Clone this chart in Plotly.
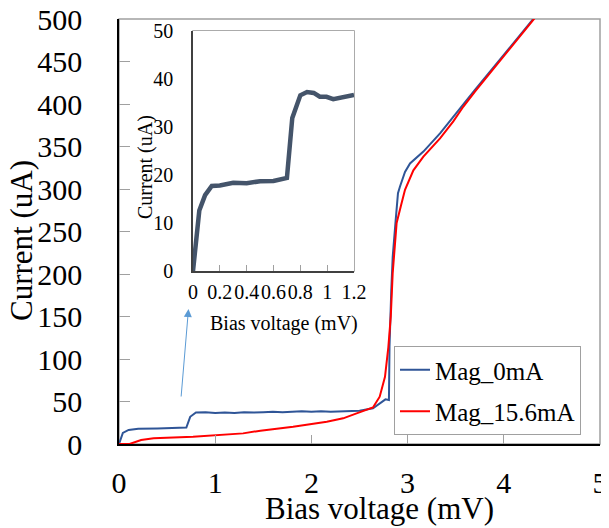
import plotly.graph_objects as go

# Main curves (bias voltage in mV, current in uA)
v_mag0 = [0.0, 0.04, 0.1, 0.2, 0.4, 0.6, 0.7, 0.74, 0.8, 0.9, 1.0, 1.1, 1.2, 1.3, 1.4, 1.5, 1.6, 1.7,
          1.8, 1.9, 2.0, 2.1, 2.2, 2.3, 2.4, 2.5, 2.64, 2.73, 2.77, 2.806, 2.812, 2.83, 2.845, 2.875,
          2.886, 2.90, 2.921, 2.973, 3.025, 3.164, 3.337, 3.475, 3.70, 4.4]
i_mag0 = [0.0, 13.0, 16.5, 18.0, 18.3, 18.8, 19.4, 32.0, 37.0, 37.5, 36.5, 37.0, 36.5, 37.5, 37.0,
          37.5, 38.0, 37.5, 38.0, 38.5, 38.0, 38.5, 38.0, 38.5, 38.5, 39.0, 42.0, 50.0, 52.5, 51.8,
          114.5, 180.0, 220.0, 262.0, 275.0, 295.0, 303.0, 320.0, 330.0, 344.0, 365.5, 385.0,
          416.5, 513.0]

v_mag156 = [0.0, 0.11, 0.23, 0.36, 0.77, 1.29, 1.47, 1.81, 2.16, 2.33, 2.47, 2.64, 2.71, 2.765,
            2.80, 2.825, 2.845, 2.865, 2.886, 2.93, 2.973, 3.06, 3.164, 3.337, 3.475, 3.58,
            3.70, 4.4]
i_mag156 = [0.0, 0.0, 4.7, 6.7, 8.6, 12.5, 15.7, 20.4, 26.3, 30.2, 36.0, 43.0, 55.7, 79.0,
            114.0, 150.0, 201.0, 235.0, 260.0, 280.0, 299.0, 322.0, 338.0, 359.6, 379.6, 397.0,
            414.5, 512.0]

# Inset (zoom of Mag_0mA at low bias)
v_inset = [0.0, 0.047, 0.09, 0.14, 0.2, 0.3, 0.4, 0.5, 0.6, 0.65, 0.7, 0.74, 0.8, 0.85, 0.9,
           0.945, 0.995, 1.045, 1.094, 1.156, 1.2]
i_inset = [0.0, 12.6, 15.8, 17.7, 17.8, 18.4, 18.3, 18.7, 18.75, 19.1, 19.4, 31.9, 36.6, 37.3,
           37.1, 36.3, 36.3, 35.8, 36.1, 36.25, 36.7]

main_xticks = [0, 1, 2, 3, 4, 5]
main_yticks = [0, 50, 100, 150, 200, 250, 300, 350, 400, 450, 500]
inset_xticks = [0, 0.2, 0.4, 0.6, 0.8, 1, 1.2]
inset_xlabels = ["0", "0.2", "0.4", "0.6", "0.8", "1", "1.2"]
inset_yticks = [0, 10, 20, 30, 40, 50]

FONT = "Liberation Serif"
OFF = 8  # default page body margin
W, H = 609 - OFF, 528 - OFF
SL, SR, ST, SB = 119, 600, 19, 444  # plot area in screen pixels


def px(x):
    return (x - SL) / (SR - SL)


def py(y):
    return (SB - y) / (SB - ST)


fig = go.Figure()
fig.add_trace(go.Scatter(x=v_mag0, y=i_mag0, mode="lines", name="Mag_0mA",
                         line=dict(color="#2F5597", width=2), legendgroup="a"))
fig.add_trace(go.Scatter(x=v_mag156, y=i_mag156, mode="lines", name="Mag_15.6mA",
                         line=dict(color="#FF0000", width=2), legendgroup="b"))
fig.add_trace(go.Scatter(x=v_inset, y=i_inset, mode="lines", showlegend=False,
                         line=dict(color="#44546A", width=4.5), xaxis="x2", yaxis="y2"))

big_tick = dict(family=FONT, size=30, color="black")
small_tick = dict(family=FONT, size=20, color="black")

fig.update_layout(
    width=W, height=H,
    margin=dict(l=SL - OFF, r=W - (SR - OFF), t=ST - OFF, b=H - (SB - OFF), autoexpand=False),
    paper_bgcolor="white", plot_bgcolor="white",
    font=dict(family=FONT, color="black"),
    showlegend=True,
    legend=dict(x=px(394), y=py(346), xanchor="left", yanchor="top",
                bordercolor="#A0A0A0", borderwidth=1, bgcolor="white",
                font=dict(family=FONT, size=25, color="black"),
                tracegroupgap=6, traceorder="grouped"),
    xaxis=dict(range=[0, 5], tickvals=main_xticks, ticks="inside", ticklen=9,
               tickcolor="#A0A0A0", showgrid=False, zeroline=False, showline=True,
               linecolor="black", linewidth=1.5, tickfont=big_tick,
               ticklabelstandoff=11, ticklabeloverflow="allow", domain=[0, 1],
               automargin=False),
    yaxis=dict(range=[0, 500], tickvals=main_yticks, ticks="inside", ticklen=11,
               tickcolor="#A0A0A0", showgrid=False, zeroline=False, showline=True,
               linecolor="black", linewidth=1.5, tickfont=big_tick,
               ticklabelstandoff=29, ticklabeloverflow="allow", domain=[0, 1],
               automargin=False),
    xaxis2=dict(range=[0, 1.2], tickvals=inset_xticks, ticktext=inset_xlabels, tickangle=0,
                ticks="inside", ticklen=6, tickcolor="#A0A0A0", showgrid=False,
                zeroline=False, showline=True, linecolor="#404040", linewidth=1.5,
                tickfont=small_tick, ticklabelstandoff=2, ticklabeloverflow="allow",
                domain=[px(193), px(354)], anchor="y2", automargin=False),
    yaxis2=dict(range=[0, 50], tickvals=inset_yticks, ticks="", showgrid=False,
                zeroline=False, showline=True, linecolor="#404040", linewidth=1.5,
                tickfont=small_tick, ticklabelstandoff=14, ticklabeloverflow="allow",
                domain=[py(271), py(31)], anchor="x2", automargin=False),
    shapes=[
        dict(type="rect", xref="paper", yref="paper", x0=0, x1=1, y0=0, y1=1,
             line=dict(color="#A0A0A0", width=1.5), layer="below"),
        dict(type="rect", xref="x2 domain", yref="y2 domain", x0=0, x1=1, y0=0, y1=1,
             line=dict(color="#909090", width=1.5), fillcolor="white", layer="below"),
    ],
    annotations=[
        dict(text="Bias voltage (mV)", x=px(379), y=py(508), xref="paper", yref="paper",
             showarrow=False, font=dict(family=FONT, size=31), xanchor="center",
             yanchor="middle"),
        dict(text="Current (uA)", x=px(21), y=py(241), xref="paper", yref="paper",
             showarrow=False, font=dict(family=FONT, size=31), textangle=-90,
             xanchor="center", yanchor="middle"),
        dict(text="Bias voltage (mV)", x=px(284), y=py(323), xref="paper", yref="paper",
             showarrow=False, font=dict(family=FONT, size=20), xanchor="center",
             yanchor="middle"),
        dict(text="Current (uA)", x=px(145), y=py(167), xref="paper", yref="paper",
             showarrow=False, font=dict(family=FONT, size=20), textangle=-90,
             xanchor="center", yanchor="middle"),
        dict(text="", x=px(188.5), y=py(309), xref="paper", yref="paper",
             ax=-7.5, ay=89, axref="pixel", ayref="pixel",
             showarrow=True, arrowhead=2, arrowsize=1.6, arrowwidth=1,
             arrowcolor="#5B9BD5"),
    ],
)

fig.write_html("out.html")
